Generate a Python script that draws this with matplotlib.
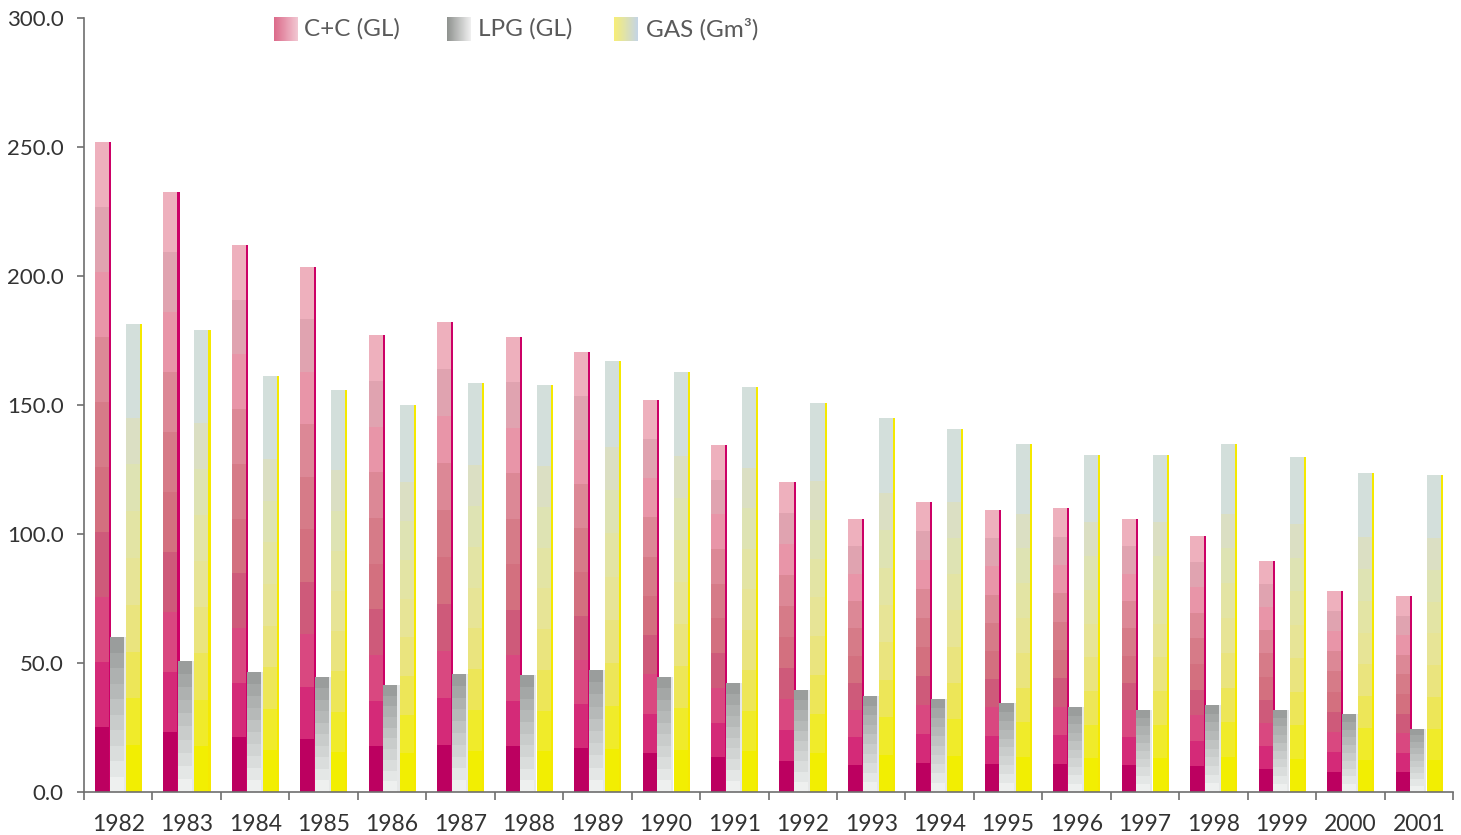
import numpy as np
import matplotlib.pyplot as plt
from matplotlib.colors import LinearSegmentedColormap

plt.rcParams['font.family'] = ['Lato', 'DejaVu Sans']

# ---------------- data ----------------
years = [str(y) for y in range(1982, 2002)]

cc = [252, 232.6, 212, 203.5, 177, 182, 176.4, 170.5, 152, 134.5,
      120, 105.8, 112.4, 109.3, 110, 105.8, 99.2, 89.5, 77.9, 76]
lpg = [60, 50.8, 46.5, 44.6, 41.5, 45.7, 45.3, 47.3, 44.6, 42.2,
       39.5, 37.2, 36, 34.5, 32.9, 31.8, 33.7, 31.8, 30.2, 24.4]
gas = [181.4, 179, 161.2, 155.8, 150, 158.5, 157.8, 167, 162.8, 157,
       150.8, 145, 140.7, 134.9, 130.6, 130.6, 134.9, 129.8, 123.6, 122.9]

series_names = ['C+C (GL)', 'LPG (GL)', 'GAS (Gm³)']

# band colours, bottom -> top
cc_bands = ['#BC0060', '#D42A78', '#D94880', '#CE5A7A', '#D3707F',
            '#D67B88', '#DC8896', '#E895A8', '#E0A3B0', '#EEB0BD']
lpg_bands = ['#EEF0EF', '#E4E7E6', '#DADDDC', '#D1D4D3', '#C9CCCB',
             '#C0C3C2', '#B6B9B8', '#AEB1B0', '#A4A7A6', '#9A9D9C']
gas_bands = ['#F2EE02', '#F0EB2A', '#EDE658', '#EAE47E', '#E7E496',
             '#E3E4A4', '#DEE3B3', '#DBDFC3', '#D3DFDB', '#D3DFDB']
edge_cols = ['#CC0066', '#E6E8E8', '#F5E900']
legend_grad = [('#DC6A8A', '#F2C8D3'), ('#8F928F', '#F0F0F0'), ('#F7EE77', '#C5D5E6')]

# ---------------- plot ----------------
fig = plt.figure(figsize=(14.61, 8.35), dpi=100)
ax = fig.add_axes([84 / 1461, 43 / 835, 1369 / 1461, 774 / 835])

x = np.arange(len(years))
body_w = 0.205
edge_w = 0.03
offsets = [-0.222, -0.008, 0.231]
all_vals = [cc, lpg, gas]
all_bands = [cc_bands, lpg_bands, gas_bands]

for vals, bands, off, ecol in zip(all_vals, all_bands, offsets, edge_cols):
    vals = np.array(vals)
    step = vals / len(bands)
    left = x + off - (body_w + edge_w) / 2
    for i, c in enumerate(bands):
        ax.bar(left, step, bottom=step * i, width=body_w, align='edge',
               color=c, linewidth=0)
    ax.bar(left + body_w, vals, width=edge_w, align='edge', color=ecol, linewidth=0)

ax.set_xlim(-0.5, len(years) - 0.5)
ax.set_ylim(0, 300)
ax.set_yticks(np.arange(0, 301, 50))
ax.set_yticklabels([f'{v:.1f}' for v in np.arange(0, 301, 50)])
ax.set_xticks(x)
ax.set_xticklabels(years)
ax.set_xticks(np.arange(-0.5, len(years)), minor=True)

for s in ['top', 'right']:
    ax.spines[s].set_visible(False)
for s in ['left', 'bottom']:
    ax.spines[s].set_color('#6E6E6E')
    ax.spines[s].set_linewidth(1.2)

ax.tick_params(axis='x', which='major', length=0, pad=15.5, labelsize=16.5, labelcolor='#333333')
ax.tick_params(axis='x', which='minor', length=6, width=1.2, color='#6E6E6E')
ax.tick_params(axis='y', length=5, width=1.2, color='#6E6E6E', pad=9.5,
               labelsize=16, labelcolor='#333333')

# legend with gradient swatches
legend_x = [274, 447, 614]
text_x = [304, 478, 646]
for name, (c0, c1), px, tx in zip(series_names, legend_grad, legend_x, text_x):
    lax = fig.add_axes([px / 1461, (835 - 41) / 835, 24 / 1461, 24 / 835])
    cmap = LinearSegmentedColormap.from_list('g', [c0, c1])
    lax.imshow(np.linspace(0, 1, 64)[None, :], aspect='auto', cmap=cmap)
    lax.axis('off')
    fig.text(tx / 1461, 1 - 29 / 835, name, fontsize=17.5, color='#5A5A5A', va='center', ha='left')

fig.savefig('out.png', dpi=100)
